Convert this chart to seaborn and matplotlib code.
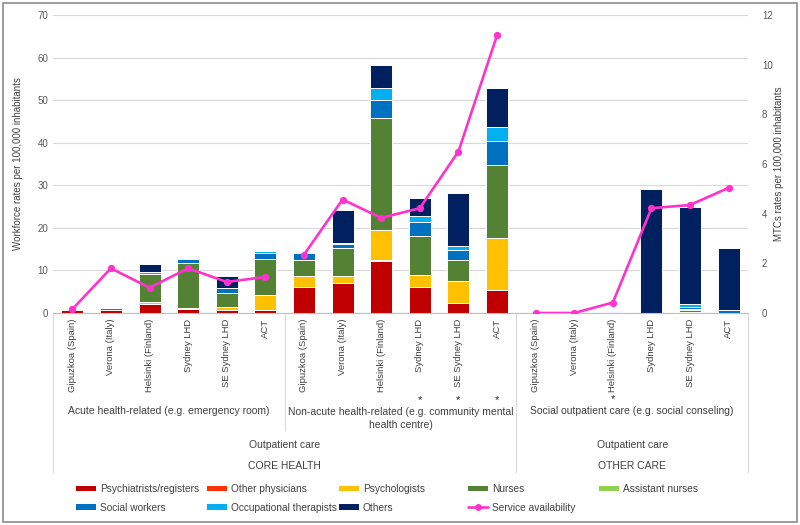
import pandas as pd
import numpy as np
import matplotlib
matplotlib.use('Agg')
import matplotlib.pyplot as plt
import seaborn as sns
from matplotlib.patches import Patch, Rectangle
from matplotlib.lines import Line2D

sns.set_style('white')
plt.rcParams['font.family'] = ['Liberation Sans', 'DejaVu Sans']

# --- data -------------------------------------------------------------
sites = ['Gipuzkoa (Spain)', 'Verona (Italy)', 'Helsinki (Finland)',
         'Sydney LHD', 'SE Sydney LHD', 'ACT']
tick_labels = sites * 3
groups = ['Acute health-related (e.g. emergency room)',
          'Non-acute health-related (e.g. community mental\nhealth centre)',
          'Social outpatient care (e.g. social conseling)']

roles = ['Psychiatrists/registers', 'Other physicians', 'Psychologists', 'Nurses',
         'Assistant nurses', 'Social workers', 'Occupational therapists', 'Others']
psychiatrists = [0.8, 0.6, 2.1, 1.0, 0.7, 0.7,   6.0, 7.0, 12.2, 6.1, 2.4, 5.3,   0, 0, 0, 0, 0, 0]
other_phys    = [0, 0, 0, 0, 0, 0,               0, 0, 0.2, 0, 0, 0,             0, 0, 0, 0, 0, 0]
psychologists = [0, 0.2, 0.5, 0.2, 0.7, 3.6,     2.8, 1.6, 7.2, 2.8, 5.2, 12.4,  0, 0, 0, 0, 0.3, 0]
nurses        = [0, 0.3, 6.6, 10.6, 3.3, 8.3,    3.7, 6.7, 26.2, 9.3, 4.9, 17.1, 0, 0, 0, 0, 0.4, 0]
assistant     = [0, 0, 0, 0, 0, 0,               0, 0, 0, 0, 0, 0,               0, 0, 0, 0, 0.2, 0]
social_w      = [0, 0, 0, 0.9, 1.2, 1.4,         1.7, 0.8, 4.3, 3.1, 2.4, 5.7,   0, 0, 0.25, 0, 0.6, 0.6]
occup_t       = [0, 0, 0.5, 0, 0, 0.6,           0, 0.4, 2.7, 1.4, 0.8, 3.3,     0, 0, 0.2, 0, 0.6, 0]
others        = [0, 0, 1.8, 0, 2.9, 0,           0, 7.7, 5.5, 4.2, 12.6, 9.0,    0, 0, 0, 29.2, 22.7, 14.7]

service_avail = [0.15, 1.8, 1.02, 1.8, 1.25, 1.45,
                 2.35, 4.57, 3.83, 4.22, 6.5, 11.18,
                 0, 0, 0.42, 4.22, 4.35, 5.04]

colors = ['#C00000', '#FF3300', '#FFC000', '#548235', '#92D050',
          '#0070C0', '#00B0F0', '#002060']
line_color = '#FF33CC'

series = [psychiatrists, other_phys, psychologists, nurses, assistant,
          social_w, occup_t, others]
n = len(tick_labels)
idx = np.arange(n)
cum = np.cumsum(np.array(series), axis=0)

# --- figure -----------------------------------------------------------
fig = plt.figure(figsize=(8, 5.25), dpi=100)
ax = fig.add_axes([53 / 800, 1 - 313 / 525, 695 / 800, 298 / 525])

# stacked bars: draw cumulative totals from the top layer down
for k in range(len(series) - 1, -1, -1):
    sns.barplot(x=idx, y=cum[k], color=colors[k], saturation=1, width=0.57,
                edgecolor='white', linewidth=0.7, errorbar=None, ax=ax)

ax.set_xlim(-0.5, n - 0.5)
ax.set_ylim(0, 70)
ax.set_yticks(range(0, 71, 10))
ax.yaxis.grid(True, color='#D9D9D9', linewidth=0.8)
ax.set_axisbelow(True)
for s in ['top', 'left', 'right']:
    ax.spines[s].set_visible(False)
ax.spines['bottom'].set_color('#BFBFBF')
ax.set_xticks(idx)
ax.set_xticklabels(tick_labels, rotation=90, fontsize=6.8, color='#404040')
ax.tick_params(axis='y', length=0, labelsize=7, colors='#595959')
ax.tick_params(axis='x', length=0, pad=4, colors='#404040')
ax.set_xlabel('')
ax.set_ylabel('Workforce rates per 100,000 inhabitants', fontsize=7,
              color='#404040', labelpad=10)

# service availability line on the secondary axis
ax2 = ax.twinx()
line_df = pd.DataFrame({'x': idx, 'y': service_avail, 'seg': np.repeat([0, 1, 2], 6)})
sns.lineplot(data=line_df, x='x', y='y', units='seg', estimator=None,
             color=line_color, linewidth=1.9, marker='o', markersize=4.5,
             markeredgecolor=line_color, ax=ax2)
ax2.set_ylim(0, 12)
ax2.set_yticks(range(0, 13, 2))
ax2.set_xlim(-0.5, n - 0.5)
for s in ['top', 'left', 'right', 'bottom']:
    ax2.spines[s].set_visible(False)
ax2.tick_params(axis='y', length=0, labelsize=7, colors='#595959', pad=10)
ax2.set_ylabel('MTCs rates per 100,000 inhabitants', fontsize=7,
               color='#404040', rotation=90, labelpad=1)
ax2.set_xlabel('')

# --- multi-level category axis ----------------------------------------
tr = ax.get_xaxis_transform()
def fy(py):
    return (313 - py) / 298

sep = '#D9D9D9'
for xs, bottom in [(-0.5, 472), (5.5, 430), (11.5, 472), (17.5, 472)]:
    ax.plot([xs, xs], [0, fy(bottom)], transform=tr, color=sep, lw=0.8, clip_on=False)

txt = dict(transform=tr, ha='center', va='center', fontsize=7.5, color='#404040')
ax.text(2.5, fy(411.5), groups[0], **txt)
ax.text(8.5, fy(418.5), groups[1], linespacing=1.3, **txt)
ax.text(14.5, fy(411.5), groups[2], **txt)
ax.text(5.5, fy(445), 'Outpatient care', **txt)
ax.text(14.5, fy(445), 'Outpatient care', **txt)
ax.text(5.5, fy(466), 'CORE HEALTH', **txt)
ax.text(14.5, fy(466), 'OTHER CARE', **txt)
for xs, py in [(9, 400), (10, 400), (11, 400), (14, 399.5)]:
    ax.text(xs, fy(py), '*', transform=tr, ha='center', va='center',
            fontsize=8, color='#262626')

# --- legend (row-major, fixed column positions) -----------------------
handles = [Patch(facecolor=c, edgecolor='none') for c in colors]
handles.append(Line2D([], [], color=line_color, lw=1.9, marker='o', markersize=4))
labels = roles + ['Service availability']
cols = [[0, 5], [1, 6], [2, 7], [3, 8], [4]]
col_x = [76, 207, 339, 468, 599]
for cx, members in zip(col_x, cols):
    fig.legend([handles[m] for m in members], [labels[m] for m in members],
               loc='upper left', bbox_to_anchor=(cx / 800, 1 - 484 / 525),
               frameon=False, fontsize=7.3, handlelength=2.0, handleheight=0.5,
               handletextpad=0.35, labelspacing=0.85, borderpad=0, borderaxespad=0,
               labelcolor='#404040')

fig.patches.append(Rectangle((3 / 800, 3 / 525), 794 / 800, 519 / 525,
                             transform=fig.transFigure, fill=False,
                             edgecolor='#8C8C8C', linewidth=1.2))

fig.savefig('out.png', dpi=100)
